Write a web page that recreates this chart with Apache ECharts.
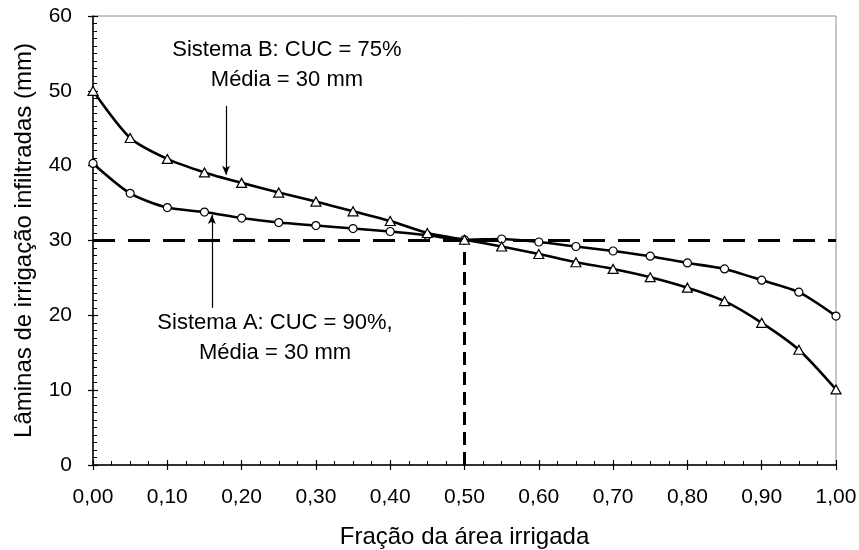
<!DOCTYPE html>
<html>
<head>
<meta charset="utf-8">
<script src="https://cdn.jsdelivr.net/npm/echarts@6/dist/echarts.min.js"></script>
<style>
html,body{margin:0;padding:0;background:#fff;}
#chart{width:859px;height:550px;}
</style>
</head>
<body>
<div id="chart"></div>
<script>
// ---- data ----
var fractions = [0.00,0.05,0.10,0.15,0.20,0.25,0.30,0.35,0.40,0.45,0.50,0.55,0.60,0.65,0.70,0.75,0.80,0.85,0.90,0.95,1.00];
var sistemaA = [40.3,36.3,34.4,33.8,33.0,32.4,32.0,31.6,31.2,30.7,30.1,30.2,29.8,29.2,28.6,27.9,27.0,26.2,24.7,23.1,19.9];
var sistemaB = [50.0,43.7,40.9,39.1,37.7,36.4,35.2,33.9,32.6,31.0,30.1,29.2,28.2,27.1,26.2,25.1,23.7,21.9,19.0,15.4,10.1];
var meanDepth = 30;
var meanFraction = 0.5;
var xTicks = [0,0.1,0.2,0.3,0.4,0.5,0.6,0.7,0.8,0.9,1.0];
var yTicks = [0,10,20,30,40,50,60];
var xTitle = 'Fração da área irrigada';
var yTitle = 'Lâminas de irrigação infiltradas (mm)';
var labelB = ['Sistema B: CUC = 75%', 'Média = 30 mm'];
var labelA = ['Sistema A: CUC = 90%,', 'Média = 30 mm'];
var labelBAnchor = [0.261, 55.5];
var labelAAnchor = [0.245, 19.0];
var arrowB = [[0.179, 48.0], [0.179, 38.8]];
var arrowA = [[0.160, 21.0], [0.160, 33.4]];

var FONT = 'Liberation Sans, Arial, sans-serif';
function pairs(xs, ys){ return xs.map(function(x,i){ return [x, ys[i]]; }); }

var chart = echarts.init(document.getElementById('chart'), null, {renderer:'canvas'});

var baseX = {
  type:'value', min:xTicks[0], max:xTicks[xTicks.length-1], interval:xTicks[1]-xTicks[0],
  position:'bottom', splitLine:{show:false}
};
var baseY = {
  type:'value', min:yTicks[0], max:yTicks[yTicks.length-1], interval:yTicks[1]-yTicks[0],
  position:'left', splitLine:{show:false}
};

var option = {
  backgroundColor:'#fff',
  animation:false,
  grid:{left:93, right:23, top:16, bottom:85, outerBoundsMode:'none', containLabel:false,
        show:true, borderColor:'#8c8c8c', borderWidth:1, backgroundColor:'transparent'},
  xAxis:[
    Object.assign({}, baseX, {
      axisLine:{show:true, lineStyle:{color:'#000', width:1.5}},
      axisTick:{show:true, inside:true, length:5, lineStyle:{color:'#000', width:1.2}},
      minorTick:{show:true, splitNumber:4, length:4, lineStyle:{color:'#000', width:1}},
      axisLabel:{show:true, margin:22, color:'#000', fontFamily:FONT, fontSize:21,
        formatter:function(v){ return v.toFixed(2).replace('.', ','); }},
      name:xTitle, nameLocation:'middle', nameGap:60,
      nameTextStyle:{color:'#000', fontFamily:FONT, fontSize:24}
    }),
    Object.assign({}, baseX, {
      axisLine:{show:false},
      axisTick:{show:true, inside:false, length:5, lineStyle:{color:'#000', width:1.2}},
      axisLabel:{show:false}
    })
  ],
  yAxis:[
    Object.assign({}, baseY, {
      axisLine:{show:true, lineStyle:{color:'#000', width:1.5}},
      axisTick:{show:true, inside:true, length:5, lineStyle:{color:'#000', width:1.2}},
      minorTick:{show:true, splitNumber:10, length:4, lineStyle:{color:'#000', width:1}},
      axisLabel:{show:true, margin:21, color:'#000', fontFamily:FONT, fontSize:21},
      name:yTitle, nameLocation:'middle', nameGap:57,
      nameTextStyle:{color:'#000', fontFamily:FONT, fontSize:24}
    }),
    Object.assign({}, baseY, {
      axisLine:{show:false},
      axisTick:{show:true, inside:false, length:5, lineStyle:{color:'#000', width:1.2}},
      axisLabel:{show:false}
    })
  ],
  series:[
    {
      type:'line', xAxisIndex:0, yAxisIndex:0, silent:true, symbol:'none', z:2,
      data:[[xTicks[0], meanDepth],[xTicks[xTicks.length-1], meanDepth]],
      lineStyle:{color:'#000', width:3.2, type:[22,13]}
    },
    {
      type:'line', xAxisIndex:0, yAxisIndex:0, silent:true, symbol:'none', z:2,
      data:[[meanFraction, yTicks[0]],[meanFraction, meanDepth]],
      lineStyle:{color:'#000', width:3, type:[13,7]}
    },
    {
      name:'Sistema A', type:'line', xAxisIndex:0, yAxisIndex:0, z:4,
      data:pairs(fractions, sistemaA), smooth:0.25,
      symbol:'circle', symbolSize:8, showAllSymbol:true,
      lineStyle:{color:'#000', width:2.6},
      itemStyle:{color:'#fff', borderColor:'#000', borderWidth:1.2},
      markLine:{
        silent:true, symbol:['none','arrow'], symbolSize:[6,9],
        label:{show:false},
        lineStyle:{color:'#000', width:1.2, type:'solid'},
        data:[[{coord:arrowA[0]},{coord:arrowA[1]}],[{coord:arrowB[0]},{coord:arrowB[1]}]]
      }
    },
    {
      name:'Sistema B', type:'line', xAxisIndex:0, yAxisIndex:0, z:5,
      data:pairs(fractions, sistemaB), smooth:0.25,
      symbol:'triangle', symbolSize:[10,9], showAllSymbol:true,
      lineStyle:{color:'#000', width:2.6},
      itemStyle:{color:'#fff', borderColor:'#000', borderWidth:1.2}
    }
  ]
};
chart.setOption(option);

function textAt(anchor, lines){
  var p = chart.convertToPixel({gridIndex:0}, anchor);
  return {
    type:'text', x:p[0], y:p[1], z:10,
    style:{text:lines.join('\n'), fill:'#000', font:'22px ' + FONT, textAlign:'center', textVerticalAlign:'middle', lineHeight:30}
  };
}
var gB = textAt(labelBAnchor, labelB);
var gA = textAt(labelAAnchor, labelA);
// shift so that first line centre sits at anchor
gB.y += 15; gA.y += 15;
chart.setOption({graphic:[gB, gA]});
</script>
</body>
</html>
